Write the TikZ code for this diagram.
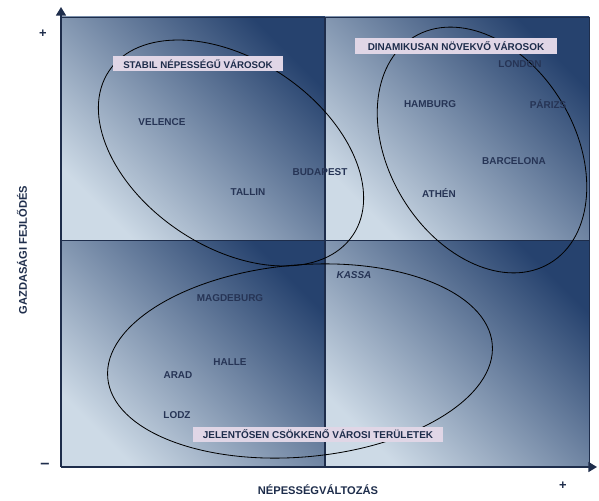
\documentclass[tikz,border=0pt]{standalone}
\usepackage{fontspec}
\setmainfont{Liberation Sans}
\usepackage{tikz}
\usetikzlibrary{arrows.meta,positioning}
\definecolor{navy}{RGB}{30,45,75}
\definecolor{quaddark}{RGB}{38,66,110}
\definecolor{quadlight}{RGB}{205,218,230}
\definecolor{citytext}{RGB}{38,52,85}
\definecolor{tagfill}{RGB}{224,214,230}

\begin{document}
\begin{tikzpicture}[x=0.03cm,y=0.03cm]
\useasboundingbox (0,0) rectangle (599,500);
% four shaded quadrants
\foreach \qx/\qy/\qh in {61/260/223,325/260/223,61/33/227,325/33/227}{
  \shade[top color=quaddark,bottom color=quadlight,shading angle=-45]
    (\qx,\qy) rectangle +(264,\qh);
}
\draw[navy,line width=0.5pt] (61,483)--(589,483)--(589,33);
\draw[navy,line width=0.6pt] (61,260)--(589,260);
\draw[navy,line width=1pt] (325,33)--(325,483);
% axes
\coordinate (O) at (61,33);
\coordinate (ytop) at (61,493);
\coordinate (xend) at (597,33);
\draw[navy,line width=1.4pt,-{Triangle[width=3mm,length=2.6mm]}] (O)--(ytop);
\draw[navy,line width=1.4pt,-{Triangle[width=3mm,length=2.6mm]}] (O)--(xend);
% groups
\draw[line width=0.7pt] (231,347) ellipse [x radius=147,y radius=93.5,rotate=-34];
\draw[line width=0.7pt] (482,350) ellipse [x radius=132,y radius=93,rotate=-59];
\draw[line width=0.7pt] (300,139) ellipse [x radius=193,y radius=96,rotate=5];
% cities
\foreach \id/\px/\py/\txt in {velence/162/378/VELENCE,tallin/248/308/TALLIN,
  budapest/320/328/BUDAPEST,hamburg/430/396/HAMBURG,london/520/436/LONDON,
  parizs/548/396/PÁRIZS,barcelona/514/339/BARCELONA,athen/439/307/ATHÉN,
  magdeburg/230/202/MAGDEBURG,halle/230/138/HALLE,arad/178/125/ARAD,lodz/177/85/LODZ}{
  \node[citytext,font=\bfseries\fontsize{8.5}{10}\selectfont] (\id) at (\px,\py) {\txt};
}
\node[citytext,font=\bfseries\itshape\fontsize{8.5}{10}\selectfont] (kassa) at (354,225) {KASSA};
% group tags
\node[fill=tagfill,minimum width=170*0.03cm,minimum height=0.45cm,inner sep=0pt,
  font=\bfseries\fontsize{8.3}{9}\selectfont,text=navy] (stabil) at (198,436) {STABIL NÉPESSÉGŰ VÁROSOK};
\node[fill=tagfill,minimum width=202*0.03cm,minimum height=0.5cm,inner sep=0pt,
  font=\bfseries\fontsize{8.5}{10}\selectfont,text=navy] (dinamikus) at (456,454) {DINAMIKUSAN NÖVEKVŐ VÁROSOK};
\node[fill=tagfill,minimum width=250*0.03cm,minimum height=0.45cm,inner sep=0pt,
  font=\bfseries\fontsize{8.5}{9}\selectfont,text=navy] (csokkeno) at (318,66) {JELENTŐSEN CSÖKKENŐ VÁROSI TERÜLETEK};
% axis labels
\node[navy,rotate=90,font=\bfseries\fontsize{9.5}{11}\selectfont] (ylab) at (22,250) {GAZDASÁGI FEJLŐDÉS};
\node[navy,font=\bfseries\fontsize{9.5}{11}\selectfont] (xlab) at (318,10) {NÉPESSÉGVÁLTOZÁS};
\node[navy,font=\bfseries\fontsize{11}{12}\selectfont] (yplus) at (43,466) {+};
\node[navy,font=\bfseries\fontsize{11}{12}\selectfont] (xplus) at (563,14) {+};
\node[navy,font=\bfseries\fontsize{14}{14}\selectfont] (yminus) at (45,34) {–};
\end{tikzpicture}
\end{document}
